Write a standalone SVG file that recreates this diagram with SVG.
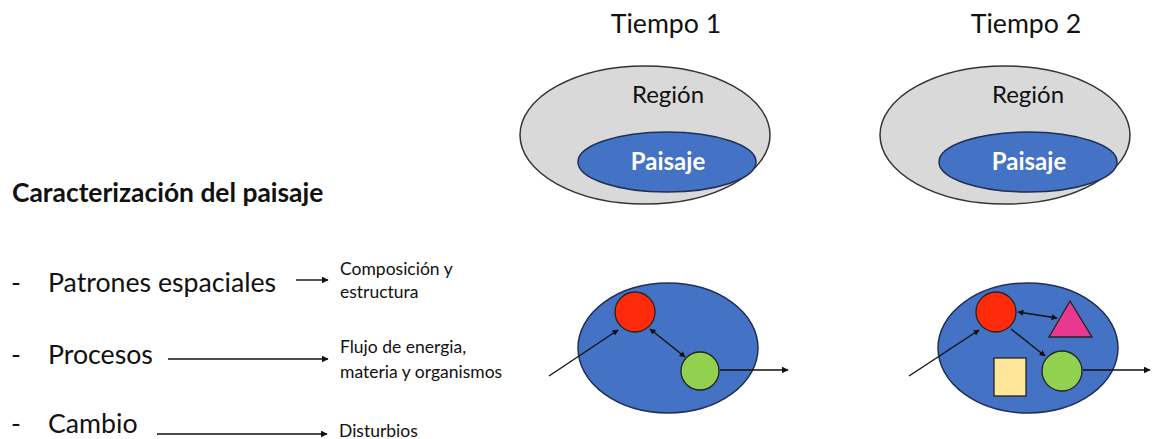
<svg xmlns="http://www.w3.org/2000/svg" width="1174" height="439" viewBox="0 0 1174 439">
<style>
text{font-family:Lato,"Noto Sans",sans-serif;fill:#111}
.big{font-size:26.7px}
.mid{font-size:24px}
.small{font-size:17.5px}
.title{font-size:26.4px;font-weight:bold}
.pai{font-size:24px;font-weight:bold;fill:#fff}
.region{fill:#d9d9d9;stroke:#333;stroke-width:1.5}
.blue{fill:#4472c4;stroke:#1f2f55;stroke-width:1.5}
.red{fill:#ff2a0a;stroke:#222;stroke-width:1.3}
.green{fill:#92d050;stroke:#222;stroke-width:1.3}
.conn{stroke:#111;stroke-width:1.4;fill:none}
</style>
<defs>
<marker id="ah" viewBox="0 0 10 10" refX="9" refY="5" markerWidth="7" markerHeight="7" markerUnits="userSpaceOnUse" orient="auto-start-reverse">
<path d="M0,0 L10,5 L0,10 z" fill="#111"/>
</marker>
<marker id="ahs" viewBox="0 0 10 10" refX="9" refY="5" markerWidth="6" markerHeight="6" markerUnits="userSpaceOnUse" orient="auto-start-reverse">
<path d="M0,0 L10,5 L0,10 z" fill="#111"/>
</marker>
</defs>

<g id="left-text">
<text class="title" x="12" y="202">Caracterización del paisaje</text>
<text class="big" x="11" y="292">-</text>
<text class="big" x="48" y="292">Patrones espaciales</text>
<text class="big" x="11" y="364">-</text>
<text class="big" x="48" y="364">Procesos</text>
<text class="big" x="11" y="433">-</text>
<text class="big" x="48" y="433">Cambio</text>
<text class="small" x="340" y="275">Composición y</text>
<text class="small" x="340" y="298">estructura</text>
<text class="small" x="340" y="353">Flujo de energia,</text>
<text class="small" x="340" y="378">materia y organismos</text>
<text class="small" x="339" y="437">Disturbios</text>
</g>

<g id="tiempo1">
<text class="big" x="666" y="33" text-anchor="middle">Tiempo 1</text>
<ellipse class="region" cx="645" cy="135" rx="125" ry="69"/>
<text class="mid" x="668" y="103" text-anchor="middle">Región</text>
<ellipse class="blue" cx="667" cy="162" rx="89" ry="30"/>
<text class="pai" x="668" y="170" text-anchor="middle">Paisaje</text>
</g>

<g id="tiempo2">
<text class="big" x="1026" y="33" text-anchor="middle">Tiempo 2</text>
<ellipse class="region" cx="1005" cy="135" rx="125" ry="69"/>
<text class="mid" x="1028" y="103" text-anchor="middle">Región</text>
<ellipse class="blue" cx="1028" cy="162" rx="89" ry="30"/>
<text class="pai" x="1029" y="170" text-anchor="middle">Paisaje</text>
</g>

<g id="paisaje1">
<ellipse class="blue" cx="668" cy="348" rx="90" ry="65"/>
<circle id="rojo1" class="red" cx="635" cy="312" r="20"/>
<circle id="verde1" class="green" cx="700" cy="371" r="19"/>
</g>

<g id="paisaje2">
<ellipse class="blue" cx="1028" cy="348" rx="90" ry="65"/>
<circle id="rojo2" class="red" cx="996" cy="312" r="20"/>
<circle id="verde2" class="green" cx="1062" cy="371" r="20"/>
<polygon id="triangulo2" points="1070,301 1049,337 1092,337" fill="#e8388f" stroke="#222" stroke-width="1.3"/>
<rect id="cuadro2" x="994" y="358" width="32" height="38" fill="#ffe699" stroke="#222" stroke-width="1.3"/>
</g>

<g id="connectors">
<line class="conn" x1="296" y1="280" x2="328" y2="280" marker-end="url(#ah)"/>
<line class="conn" x1="168" y1="359" x2="328" y2="359" marker-end="url(#ah)"/>
<line class="conn" x1="157" y1="434" x2="327" y2="434" marker-end="url(#ah)"/>

<line class="conn" x1="549" y1="376" x2="618" y2="330" marker-end="url(#ahs)"/>
<line class="conn" x1="650" y1="329" x2="685" y2="357" marker-start="url(#ahs)" marker-end="url(#ahs)"/>
<line class="conn" x1="720" y1="370" x2="788" y2="370" marker-end="url(#ah)"/>

<line class="conn" x1="909" y1="376" x2="979" y2="330" marker-end="url(#ahs)"/>
<line class="conn" x1="1018" y1="312" x2="1057" y2="318" marker-start="url(#ahs)" marker-end="url(#ahs)"/>
<line class="conn" x1="1011" y1="329" x2="1045" y2="356" marker-end="url(#ahs)"/>
<line class="conn" x1="1083" y1="370" x2="1150" y2="370" marker-end="url(#ah)"/>
</g>
</svg>
